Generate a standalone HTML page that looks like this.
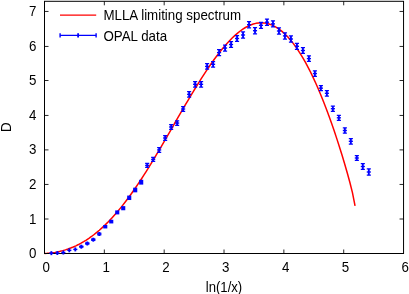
<!DOCTYPE html>
<html><head><meta charset="utf-8"><title>plot</title>
<style>
html,body{margin:0;padding:0;background:#fff;}
body{width:409px;height:294px;overflow:hidden;}
svg{display:block;will-change:transform;}
text{font-family:"Liberation Sans",sans-serif;font-size:13.33px;fill:#000;}
</style></head><body>
<svg width="409" height="294" viewBox="0 0 409 294">
<rect width="409" height="294" fill="#fff"/>
<text transform="translate(46.25,271.8) scale(1,1.07)" text-anchor="middle">0</text><text transform="translate(106.09,271.8) scale(1,1.07)" text-anchor="middle">1</text><text transform="translate(165.93,271.8) scale(1,1.07)" text-anchor="middle">2</text><text transform="translate(225.78,271.8) scale(1,1.07)" text-anchor="middle">3</text><text transform="translate(285.62,271.8) scale(1,1.07)" text-anchor="middle">4</text><text transform="translate(345.46,271.8) scale(1,1.07)" text-anchor="middle">5</text><text transform="translate(405.30,271.8) scale(1,1.07)" text-anchor="middle">6</text><text transform="translate(36.5,258.00) scale(1,1.07)" text-anchor="end">0</text><text transform="translate(36.5,223.50) scale(1,1.07)" text-anchor="end">1</text><text transform="translate(36.5,188.95) scale(1,1.07)" text-anchor="end">2</text><text transform="translate(36.5,154.40) scale(1,1.07)" text-anchor="end">3</text><text transform="translate(36.5,119.95) scale(1,1.07)" text-anchor="end">4</text><text transform="translate(36.5,85.00) scale(1,1.07)" text-anchor="end">5</text><text transform="translate(36.5,50.95) scale(1,1.07)" text-anchor="end">6</text><text transform="translate(36.5,15.95) scale(1,1.07)" text-anchor="end">7</text>
<text transform="translate(224.0,291.8) scale(0.985,1.07)" text-anchor="middle">ln(1/x)</text>
<text transform="translate(11.1,127.3) rotate(-90) scale(1,1.07)" text-anchor="middle">D</text>
<text transform="translate(103.4,20.4) scale(1,1.07)">MLLA limiting spectrum</text>
<text transform="translate(103.4,40.5) scale(1,1.07)">OPAL data</text>
<path d="M60,15.1H96.2" stroke="#f00" stroke-width="1.4" fill="none"/>
<path d="M44.53,253.50 L47.14,253.35 L49.75,253.11 L52.36,252.79 L54.97,252.38 L57.58,251.89 L60.19,251.30 L62.80,250.63 L65.41,249.87 L68.01,249.01 L70.62,248.05 L73.23,246.99 L75.84,245.82 L78.45,244.54 L81.06,243.16 L83.67,241.66 L86.28,240.05 L88.89,238.32 L91.50,236.48 L94.11,234.51 L96.72,232.43 L99.33,230.23 L101.94,227.91 L104.55,225.47 L107.16,222.91 L109.76,220.24 L112.37,217.44 L114.98,214.53 L117.59,211.50 L120.20,208.36 L122.81,205.11 L125.42,201.75 L128.03,198.28 L130.64,194.71 L133.25,191.04 L135.86,187.28 L138.47,183.42 L141.08,179.47 L143.69,175.45 L146.30,171.34 L148.91,167.16 L151.52,162.91 L154.12,158.60 L156.73,154.23 L159.34,149.82 L161.95,145.36 L164.56,140.86 L167.17,136.33 L169.78,131.78 L172.39,127.26 L175.00,122.74 L177.61,118.22 L180.22,113.71 L182.83,109.22 L185.44,104.74 L188.05,100.30 L190.66,95.90 L193.27,91.55 L195.88,87.26 L198.48,83.03 L201.09,78.88 L203.70,74.81 L206.31,70.83 L208.92,66.96 L211.53,63.19 L214.14,59.55 L216.75,56.01 L219.36,52.58 L221.97,49.30 L224.58,46.18 L227.19,43.22 L229.80,40.43 L232.41,37.82 L235.02,35.36 L237.63,33.08 L240.23,31.01 L242.84,29.15 L245.45,27.50 L248.06,26.09 L250.67,24.94 L253.28,24.02 L255.89,23.36 L258.50,22.94 L261.11,22.78 L263.72,22.88 L266.33,23.27 L268.94,23.93 L271.55,24.87 L274.16,26.08 L276.77,27.57 L279.38,29.33 L281.99,31.36 L284.59,33.69 L287.20,36.30 L289.81,39.20 L292.42,42.39 L295.03,45.86 L297.64,49.60 L300.25,53.61 L302.86,57.90 L305.47,62.47 L308.08,67.33 L310.69,72.46 L313.30,77.86 L315.91,83.54 L318.52,89.48 L321.13,95.71 L323.74,102.23 L326.34,109.00 L328.95,116.03 L331.56,123.31 L334.17,130.84 L336.78,138.63 L339.39,146.68 L342.00,155.02 L344.61,163.68 L347.22,172.72 L349.83,182.28 L352.44,192.69 L355.05,205.79" stroke="#f00" stroke-width="1.5" fill="none" stroke-linejoin="round"/>
<g fill="none" stroke="#000" stroke-width="1">
<rect x="44.50" y="1.30" width="359.05" height="252.20"/>
<g stroke-width="0.85"><path d="M104.34,253.50v-4M104.34,1.30v4"/><path d="M164.18,253.50v-4M164.18,1.30v4"/><path d="M224.03,253.50v-4M224.03,1.30v4"/><path d="M283.87,253.50v-4M283.87,1.30v4"/><path d="M343.71,253.50v-4M343.71,1.30v4"/><path d="M44.50,219.00h4M403.55,219.00h-4"/><path d="M44.50,184.45h4M403.55,184.45h-4"/><path d="M44.50,149.90h4M403.55,149.90h-4"/><path d="M44.50,115.45h4M403.55,115.45h-4"/><path d="M44.50,80.50h4M403.55,80.50h-4"/><path d="M44.50,46.45h4M403.55,46.45h-4"/><path d="M44.50,11.45h4M403.55,11.45h-4"/></g>
</g>
<g stroke="#00f" fill="none">
<path d="M60.1,35.4H96.1" stroke-width="1.3"/>
<path d="M60.1,33.2v4.4M96.1,33.2v4.4" stroke-width="1.4"/>
<path d="M78.1,33.3v4.2" stroke-width="1.8"/>
<path d="M51.35,251.15V255.15" stroke-width="1.85"/><path d="M49.30,253.15H53.40" stroke-width="1.4"/>
<path d="M57.34,251.00V255.00" stroke-width="1.85"/><path d="M55.29,253.00H59.39" stroke-width="1.4"/>
<path d="M63.33,250.50V254.50" stroke-width="1.85"/><path d="M61.28,252.50H65.38" stroke-width="1.4"/>
<path d="M69.32,248.30V252.30" stroke-width="1.85"/><path d="M67.27,250.30H71.37" stroke-width="1.4"/>
<path d="M75.31,247.40V251.40" stroke-width="1.85"/><path d="M73.26,249.40H77.36" stroke-width="1.4"/>
<path d="M81.30,244.70V248.70" stroke-width="1.85"/><path d="M79.25,246.16H83.35M79.25,247.24H83.35" stroke-width="1.25"/><path d="M79.25,246.70H83.35" stroke-width="1.4"/>
<path d="M87.29,241.50V245.50" stroke-width="1.85"/><path d="M85.24,242.84H89.34M85.24,244.16H89.34" stroke-width="1.25"/><path d="M85.24,243.50H89.34" stroke-width="1.4"/>
<path d="M93.28,237.70V241.70" stroke-width="1.85"/><path d="M91.23,238.93H95.33M91.23,240.47H95.33" stroke-width="1.25"/><path d="M91.23,239.70H95.33" stroke-width="1.4"/>
<path d="M99.27,232.00V236.00" stroke-width="1.85"/><path d="M97.22,233.08H101.32M97.22,234.92H101.32" stroke-width="1.25"/><path d="M97.22,234.00H101.32" stroke-width="1.4"/>
<rect x="103.21" y="224.96" width="4.10" height="3.49" fill="#00f" stroke="none"/>
<rect x="109.20" y="219.76" width="4.10" height="3.68" fill="#00f" stroke="none"/>
<rect x="115.19" y="210.40" width="4.10" height="4.00" fill="#00f" stroke="none"/>
<rect x="121.18" y="206.13" width="4.10" height="4.13" fill="#00f" stroke="none"/>
<rect x="127.17" y="195.58" width="4.10" height="4.44" fill="#00f" stroke="none"/>
<rect x="133.16" y="187.68" width="4.10" height="4.65" fill="#00f" stroke="none"/>
<rect x="139.15" y="179.78" width="4.10" height="4.84" fill="#00f" stroke="none"/>
<path d="M147.19,163.40V167.40" stroke-width="1.85"/><path d="M145.14,163.40H149.24M145.14,167.40H149.24" stroke-width="1.25"/><path d="M145.14,165.40H149.24" stroke-width="1.4"/>
<path d="M153.18,157.40V161.40" stroke-width="1.85"/><path d="M151.13,157.40H155.23M151.13,161.40H155.23" stroke-width="1.25"/><path d="M151.13,159.40H155.23" stroke-width="1.4"/>
<path d="M159.17,147.65V152.25" stroke-width="1.85"/><path d="M157.12,147.65H161.22M157.12,152.25H161.22" stroke-width="1.25"/><path d="M157.12,149.95H161.22" stroke-width="1.4"/>
<path d="M165.16,135.70V140.30" stroke-width="1.85"/><path d="M163.11,135.70H167.21M163.11,140.30H167.21" stroke-width="1.25"/><path d="M163.11,138.00H167.21" stroke-width="1.4"/>
<path d="M171.15,124.64V129.36" stroke-width="1.85"/><path d="M169.10,124.64H173.20M169.10,129.36H173.20" stroke-width="1.25"/><path d="M169.10,127.00H173.20" stroke-width="1.4"/>
<path d="M177.14,120.79V125.31" stroke-width="1.85"/><path d="M175.09,120.79H179.19M175.09,125.31H179.19" stroke-width="1.25"/><path d="M175.09,123.05H179.19" stroke-width="1.4"/>
<path d="M183.13,106.55V111.45" stroke-width="1.85"/><path d="M181.08,106.55H185.18M181.08,111.45H185.18" stroke-width="1.25"/><path d="M181.08,109.00H185.18" stroke-width="1.4"/>
<path d="M189.12,91.63V97.07" stroke-width="1.85"/><path d="M187.07,91.63H191.17M187.07,97.07H191.17" stroke-width="1.25"/><path d="M187.07,94.35H191.17" stroke-width="1.4"/>
<path d="M195.11,81.58V87.02" stroke-width="1.85"/><path d="M193.06,81.58H197.16M193.06,87.02H197.16" stroke-width="1.25"/><path d="M193.06,84.30H197.16" stroke-width="1.4"/>
<path d="M201.10,81.58V87.02" stroke-width="1.85"/><path d="M199.05,81.58H203.15M199.05,87.02H203.15" stroke-width="1.25"/><path d="M199.05,84.30H203.15" stroke-width="1.4"/>
<path d="M207.09,63.68V69.12" stroke-width="1.85"/><path d="M205.04,63.68H209.14M205.04,69.12H209.14" stroke-width="1.25"/><path d="M205.04,66.40H209.14" stroke-width="1.4"/>
<path d="M213.08,61.58V67.02" stroke-width="1.85"/><path d="M211.03,61.58H215.13M211.03,67.02H215.13" stroke-width="1.25"/><path d="M211.03,64.30H215.13" stroke-width="1.4"/>
<path d="M219.07,49.65V55.55" stroke-width="1.85"/><path d="M217.02,49.65H221.12M217.02,55.55H221.12" stroke-width="1.25"/><path d="M217.02,52.60H221.12" stroke-width="1.4"/>
<path d="M225.06,45.05V51.05" stroke-width="1.85"/><path d="M223.01,45.05H227.11M223.01,51.05H227.11" stroke-width="1.25"/><path d="M223.01,48.05H227.11" stroke-width="1.4"/>
<path d="M231.05,41.68V47.32" stroke-width="1.85"/><path d="M229.00,41.68H233.10M229.00,47.32H233.10" stroke-width="1.25"/><path d="M229.00,44.50H233.10" stroke-width="1.4"/>
<path d="M237.04,35.59V41.41" stroke-width="1.85"/><path d="M234.99,35.59H239.09M234.99,41.41H239.09" stroke-width="1.25"/><path d="M234.99,38.50H239.09" stroke-width="1.4"/>
<path d="M243.03,31.96V38.04" stroke-width="1.85"/><path d="M240.98,31.96H245.08M240.98,38.04H245.08" stroke-width="1.25"/><path d="M240.98,35.00H245.08" stroke-width="1.4"/>
<path d="M249.02,21.55V27.85" stroke-width="1.85"/><path d="M246.97,21.55H251.07M246.97,27.85H251.07" stroke-width="1.25"/><path d="M246.97,24.70H251.07" stroke-width="1.4"/>
<path d="M255.01,27.58V33.82" stroke-width="1.85"/><path d="M252.96,27.58H257.06M252.96,33.82H257.06" stroke-width="1.25"/><path d="M252.96,30.70H257.06" stroke-width="1.4"/>
<path d="M261.00,22.26V28.34" stroke-width="1.85"/><path d="M258.95,22.26H263.05M258.95,28.34H263.05" stroke-width="1.25"/><path d="M258.95,25.30H263.05" stroke-width="1.4"/>
<path d="M266.99,19.08V25.32" stroke-width="1.85"/><path d="M264.94,19.08H269.04M264.94,25.32H269.04" stroke-width="1.25"/><path d="M264.94,22.20H269.04" stroke-width="1.4"/>
<path d="M272.98,20.82V26.98" stroke-width="1.85"/><path d="M270.93,20.82H275.03M270.93,26.98H275.03" stroke-width="1.25"/><path d="M270.93,23.90H275.03" stroke-width="1.4"/>
<path d="M278.97,27.88V34.12" stroke-width="1.85"/><path d="M276.92,27.88H281.02M276.92,34.12H281.02" stroke-width="1.25"/><path d="M276.92,31.00H281.02" stroke-width="1.4"/>
<path d="M284.96,32.80V39.00" stroke-width="1.85"/><path d="M282.91,32.80H287.01M282.91,39.00H287.01" stroke-width="1.25"/><path d="M282.91,35.90H287.01" stroke-width="1.4"/>
<path d="M290.95,35.88V42.12" stroke-width="1.85"/><path d="M288.90,35.88H293.00M288.90,42.12H293.00" stroke-width="1.25"/><path d="M288.90,39.00H293.00" stroke-width="1.4"/>
<path d="M296.94,43.35V49.25" stroke-width="1.85"/><path d="M294.89,43.35H298.99M294.89,49.25H298.99" stroke-width="1.25"/><path d="M294.89,46.30H298.99" stroke-width="1.4"/>
<path d="M302.93,47.64V53.36" stroke-width="1.85"/><path d="M300.88,47.64H304.98M300.88,53.36H304.98" stroke-width="1.25"/><path d="M300.88,50.50H304.98" stroke-width="1.4"/>
<path d="M308.92,55.78V61.42" stroke-width="1.85"/><path d="M306.87,55.78H310.97M306.87,61.42H310.97" stroke-width="1.25"/><path d="M306.87,58.60H310.97" stroke-width="1.4"/>
<path d="M314.91,70.78V76.32" stroke-width="1.85"/><path d="M312.86,70.78H316.96M312.86,76.32H316.96" stroke-width="1.25"/><path d="M312.86,73.55H316.96" stroke-width="1.4"/>
<path d="M320.90,85.66V90.64" stroke-width="1.85"/><path d="M318.85,85.66H322.95M318.85,90.64H322.95" stroke-width="1.25"/><path d="M318.85,88.15H322.95" stroke-width="1.4"/>
<path d="M326.89,90.53V96.07" stroke-width="1.85"/><path d="M324.84,90.53H328.94M324.84,96.07H328.94" stroke-width="1.25"/><path d="M324.84,93.30H328.94" stroke-width="1.4"/>
<path d="M332.88,106.11V111.29" stroke-width="1.85"/><path d="M330.83,106.11H334.93M330.83,111.29H334.93" stroke-width="1.25"/><path d="M330.83,108.70H334.93" stroke-width="1.4"/>
<path d="M338.87,115.31V120.29" stroke-width="1.85"/><path d="M336.82,115.31H340.92M336.82,120.29H340.92" stroke-width="1.25"/><path d="M336.82,117.80H340.92" stroke-width="1.4"/>
<path d="M344.86,127.82V133.18" stroke-width="1.85"/><path d="M342.81,127.82H346.91M342.81,133.18H346.91" stroke-width="1.25"/><path d="M342.81,130.50H346.91" stroke-width="1.4"/>
<path d="M350.85,138.58V144.02" stroke-width="1.85"/><path d="M348.80,138.58H352.90M348.80,144.02H352.90" stroke-width="1.25"/><path d="M348.80,141.30H352.90" stroke-width="1.4"/>
<path d="M356.84,155.74V160.26" stroke-width="1.85"/><path d="M354.79,155.74H358.89M354.79,160.26H358.89" stroke-width="1.25"/><path d="M354.79,158.00H358.89" stroke-width="1.4"/>
<path d="M362.83,163.68V169.32" stroke-width="1.85"/><path d="M360.78,163.68H364.88M360.78,169.32H364.88" stroke-width="1.25"/><path d="M360.78,166.50H364.88" stroke-width="1.4"/>
<path d="M368.82,168.86V175.14" stroke-width="1.85"/><path d="M366.77,168.86H370.87M366.77,175.14H370.87" stroke-width="1.25"/><path d="M366.77,172.00H370.87" stroke-width="1.4"/>
</g>
</svg>
</body></html>
